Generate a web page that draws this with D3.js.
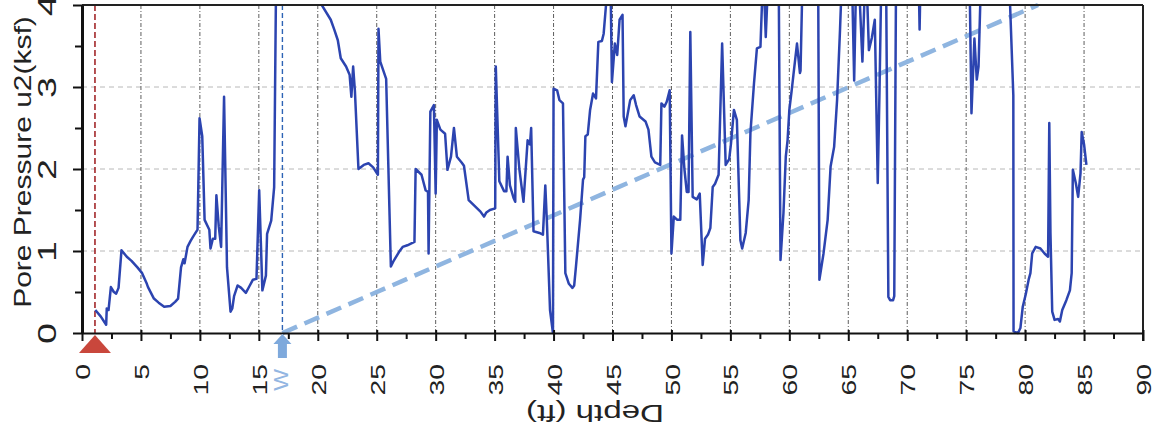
<!DOCTYPE html>
<html>
<head>
<meta charset="utf-8">
<script src="https://cdn.jsdelivr.net/npm/d3@7"></script>
<style>
  html, body { margin: 0; padding: 0; background: #fff; }
  svg { display: block; font-family: "Liberation Sans", Arial, sans-serif; }
</style>
</head>
<body>
<svg id="chart" width="1160" height="448"></svg>
<script>
// ---------------- data ----------------
const depth = [1.13,1.6,2.05,2.1,2.25,2.45,2.7,2.9,3.1,3.35,3.8,4.2,4.7,5.1,5.5,5.6,6.1,6.5,6.97,7.5,7.9,8.15,8.4,8.6,8.7,8.95,9.2,9.4,9.8,9.97,10.2,10.4,10.8,10.9,11.1,11.3,11.4,11.6,11.8,12.05,12.3,12.6,12.75,12.9,13.2,13.5,13.9,14.2,14.5,14.8,15.03,15.3,15.6,15.7,16.05,16.3,16.45,17.5,19.0,20.0,20.25,21.1,21.4,21.7,21.95,22.4,22.7,22.85,23.0,23.15,23.45,23.9,24.3,24.7,25.1,25.15,25.3,25.8,26.2,26.4,26.9,27.2,27.6,28.2,28.3,28.8,29.15,29.35,29.4,29.55,29.85,30.0,30.1,30.4,30.8,31.0,31.3,31.55,31.8,32.2,32.4,32.8,33.3,33.8,34.1,34.3,34.6,35.05,35.1,35.4,35.8,36.0,36.1,36.3,36.6,36.75,36.8,37.1,37.45,37.8,38.0,38.1,38.3,38.8,39.1,39.3,39.45,39.7,39.95,40.0,40.3,40.5,40.8,41.0,41.3,41.6,41.75,41.9,42.25,42.5,42.6,42.7,42.9,43.1,43.35,43.6,43.8,44.1,44.25,44.45,44.65,44.85,44.95,45.2,45.4,45.6,45.85,45.95,46.1,46.5,46.8,47.0,47.3,47.8,48.05,48.3,48.6,49.05,49.15,49.4,49.6,49.85,50.0,50.2,50.5,50.75,50.9,51.1,51.3,51.45,51.6,51.8,52.15,52.4,52.65,52.85,53.1,53.3,53.5,53.7,54.0,54.3,54.6,54.9,55.05,55.3,55.55,55.85,56.0,56.3,56.55,56.7,57.0,57.25,57.55,57.7,57.85,58.0,58.2,58.7,59.1,59.25,59.5,59.7,59.85,60.0,60.2,60.35,60.65,60.9,60.95,61.1,61.8,62.45,62.55,62.9,63.25,63.5,63.8,64.05,64.3,64.45,65.0,65.35,65.5,65.65,65.9,66.2,66.4,66.6,66.75,67.0,67.25,67.5,67.65,67.8,68.2,68.4,68.55,68.8,68.9,69.05,70.0,71.0,71.05,71.1,73.0,75.3,75.45,75.7,75.9,76.05,76.25,77.5,78.65,79.0,79.02,79.4,79.6,79.8,80.05,80.3,80.45,80.6,80.9,81.3,81.65,81.95,82.05,82.15,82.3,82.5,82.8,82.95,83.15,83.5,83.8,83.95,84.05,84.3,84.5,84.7,84.8,85.0,85.2];
const u2 = [0.28,0.2,0.1,0.3,0.28,0.56,0.5,0.48,0.55,1.01,0.93,0.88,0.8,0.73,0.6,0.56,0.42,0.37,0.32,0.33,0.38,0.42,0.8,0.9,0.85,1.05,1.12,1.17,1.26,2.62,2.4,1.38,1.26,1.03,1.15,1.15,1.68,1.3,1.05,2.88,0.8,0.26,0.3,0.45,0.58,0.55,0.49,0.57,0.65,0.66,1.74,0.52,0.7,1.21,1.37,1.78,4.1,5.0,5.2,4.3,4.02,3.82,3.7,3.57,3.35,3.25,3.15,2.88,3.25,2.95,2.0,2.05,2.07,2.02,1.93,3.71,3.31,3.1,0.81,0.87,0.99,1.05,1.07,1.11,2.0,1.93,1.74,1.72,0.97,2.7,2.78,1.7,2.6,2.48,2.43,1.99,2.15,2.5,2.15,2.08,2.04,1.62,1.55,1.48,1.42,1.47,1.5,1.52,3.25,1.85,1.73,1.73,2.15,1.8,1.65,1.6,2.5,2.0,1.6,2.35,2.3,2.5,1.24,1.22,1.2,1.8,1.3,0.28,0.0,2.98,2.96,2.84,2.8,0.73,0.6,0.55,0.58,0.81,1.38,1.87,1.9,2.4,2.42,2.72,2.92,2.86,3.55,3.56,3.65,4.0,4.4,4.1,3.06,3.53,3.39,3.82,3.88,2.64,2.52,2.84,2.9,2.78,2.64,2.58,2.48,2.15,2.08,2.05,2.8,2.76,2.82,2.96,0.97,1.42,1.38,1.38,2.41,2.0,1.72,1.72,3.67,1.66,1.63,1.7,0.83,1.15,1.2,1.28,1.78,1.82,1.93,3.53,2.05,2.12,2.31,2.72,2.6,1.13,1.03,1.22,1.62,2.44,3.04,3.47,3.49,4.1,4.2,3.61,4.3,4.8,4.3,0.89,1.46,2.15,2.35,2.72,2.96,3.15,3.53,3.17,3.2,4.2,4.8,4.2,0.65,0.97,1.38,2.03,2.27,2.84,3.7,4.3,4.5,4.1,3.08,4.2,4.3,3.31,4.2,4.1,3.45,3.6,3.82,1.83,2.96,4.3,4.5,0.44,0.4,0.4,0.45,4.3,5.0,4.1,3.7,4.1,5.0,4.2,2.68,3.59,3.09,3.25,4.3,5.0,4.3,2.9,0.02,0.0,0.06,0.32,0.47,0.65,0.73,0.97,1.05,1.03,0.97,0.93,2.56,1.22,0.26,0.16,0.17,0.14,0.28,0.4,0.52,0.73,1.99,1.83,1.66,1.95,2.45,2.3,2.05];

const xMajorTicks = [0,5,10,15,20,25,30,35,40,45,50,55,60,65,70,75,80,85,90];
const xMinorTicks = [2.5,7.5,12.5,17.5,22.5,27.5,32.5,37.5,42.5,47.5,52.5,57.5,62.5,67.5,72.5,77.5,82.5,87.5];
const yMajorTicks = [0,1,2,3,4];
const yMinorTicks = [0.5,1.5,2.5,3.5];
const xDomain = [0, 90];
const yDomain = [0, 4];
const xTitle = "Depth (ft)";
const yTitle = "Pore Pressure u2(ksf)";
const startDepth = 1.1;        // red marker
const waterDepth = 17;         // W marker
const waterLabel = "W";
const hydroEndDepth = 81.1;    // hydrostatic line reaches 4 ksf
const hydroEndValue = 4;

// ---------------- layout ----------------
const L = 82, R = 1143, T = 5, B = 333;
const svg = d3.select("#chart");
const x = d3.scaleLinear().domain(xDomain).range([L, R]);
const y = d3.scaleLinear().domain(yDomain).range([B, T]);

svg.append("defs").append("clipPath").attr("id", "plotClip")
  .append("rect").attr("x", L).attr("y", T).attr("width", R - L).attr("height", B - T + 3);

// grid
const grid = svg.append("g");
grid.selectAll("line.hg").data(yMajorTicks.filter(v => v > 0 && v < 4)).join("line")
  .attr("x1", L).attr("x2", R).attr("y1", d => y(d)).attr("y2", d => y(d))
  .attr("stroke", "#b8b8b8").attr("stroke-width", 1).attr("stroke-dasharray", "5,4");
grid.selectAll("line.vg").data(xMajorTicks.filter(v => v > 0 && v < 90)).join("line")
  .attr("x1", d => x(d)).attr("x2", d => x(d)).attr("y1", T).attr("y2", B)
  .attr("stroke", "#5e5e5e").attr("stroke-width", 1).attr("stroke-dasharray", "4,2,1,2");

// markers lines
svg.append("line").attr("x1", x(startDepth)).attr("x2", x(startDepth)).attr("y1", T).attr("y2", B)
  .attr("stroke", "#a3282a").attr("stroke-width", 1.6).attr("stroke-dasharray", "6,3");
svg.append("line").attr("x1", x(waterDepth)).attr("x2", x(waterDepth)).attr("y1", T).attr("y2", B)
  .attr("stroke", "#2d63b5").attr("stroke-width", 1.4).attr("stroke-dasharray", "5,3");

// hydrostatic line
svg.append("line")
  .attr("x1", x(waterDepth)).attr("y1", y(0)).attr("x2", x(hydroEndDepth)).attr("y2", y(hydroEndValue))
  .attr("stroke", "#8fb5e0").attr("stroke-width", 4.5).attr("stroke-dasharray", "16,8");

// data line
const pts = depth.map((d, i) => [d, u2[i]]);
svg.append("path").datum(pts)
  .attr("clip-path", "url(#plotClip)")
  .attr("fill", "none").attr("stroke", "#2c44b0").attr("stroke-width", 2.5)
  .attr("stroke-linejoin", "round")
  .attr("d", d3.line().x(d => x(d[0])).y(d => y(d[1])));

// frame top/right
svg.append("line").attr("x1", L).attr("x2", R).attr("y1", T).attr("y2", T).attr("stroke", "#222").attr("stroke-width", 2);
svg.append("line").attr("x1", R).attr("x2", R).attr("y1", T).attr("y2", B + 8).attr("stroke", "#222").attr("stroke-width", 2);

// x axis
const xAxisMinor = d3.axisBottom(x).tickValues(xMinorTicks).tickSize(6).tickSizeOuter(0).tickFormat("");
svg.append("g").attr("transform", `translate(0,${B})`).call(xAxisMinor)
  .call(g => g.select(".domain").remove())
  .call(g => g.selectAll("line").attr("stroke", "#111").attr("stroke-width", 2));
const xAxis = d3.axisBottom(x).tickValues(xMajorTicks).tickSize(8).tickSizeOuter(0).tickFormat(d3.format("d"));
const gx = svg.append("g").attr("transform", `translate(0,${B})`).call(xAxis);
gx.select(".domain").attr("stroke", "#111").attr("stroke-width", 2);
gx.selectAll("line").attr("stroke", "#111").attr("stroke-width", 2).attr("y1", -3);
gx.selectAll("text")
  .attr("x", 0).attr("y", 0).attr("dy", "0.36em")
  .attr("text-anchor", "end")
  .attr("transform", "translate(0,31) rotate(-90) scale(1.35,1)")
  .attr("font-size", 21).attr("fill", "#222")
  .style("font-family", "'Liberation Sans', Arial, sans-serif");

// y axis
const yAxisMinor = d3.axisLeft(y).tickValues(yMinorTicks).tickSize(7).tickSizeOuter(0).tickFormat("");
svg.append("g").attr("transform", `translate(${L},0)`).call(yAxisMinor)
  .call(g => g.select(".domain").remove())
  .call(g => g.selectAll("line").attr("stroke", "#111").attr("stroke-width", 2));
const yAxis = d3.axisLeft(y).tickValues(yMajorTicks).tickSize(9).tickSizeOuter(0).tickFormat(d3.format("d"));
const gy = svg.append("g").attr("transform", `translate(${L},0)`).call(yAxis);
gy.select(".domain").attr("stroke", "#111").attr("stroke-width", 3);
gy.selectAll("line").attr("stroke", "#111").attr("stroke-width", 2);
gy.selectAll("text")
  .attr("x", 0).attr("y", 0).attr("dy", "0.36em")
  .attr("text-anchor", "middle")
  .attr("transform", "translate(-35,0) rotate(-90) scale(1.45,1)")
  .attr("font-size", 26).attr("fill", "#222")
  .style("font-family", "'Liberation Sans', Arial, sans-serif");

// titles
svg.append("text").text(yTitle)
  .attr("transform", `translate(22,${(T + B) / 2 - 7}) rotate(-90) scale(1.25,1)`)
  .attr("text-anchor", "middle").attr("dy", "0.36em")
  .attr("font-size", 24).attr("fill", "#222");
svg.append("text").text(xTitle)
  .attr("transform", `translate(595,414) rotate(180) scale(1.38,1)`)
  .attr("text-anchor", "middle").attr("dy", "0.36em")
  .attr("font-size", 24).attr("fill", "#222");

// red triangle marker
const tx = x(startDepth);
svg.append("path")
  .attr("d", d3.line()([[tx - 16, B + 20], [tx + 16, B + 20], [tx, B + 2]]) + "Z")
  .attr("fill", "#c9473c");

// water arrow marker
const wx = x(waterDepth);
svg.append("path")
  .attr("d", d3.line()([[wx, B + 1], [wx - 9, B + 11], [wx - 4.5, B + 11], [wx - 4.5, B + 25], [wx + 4.5, B + 25], [wx + 4.5, B + 11], [wx + 9, B + 11]]) + "Z")
  .attr("fill", "#7ea9dc");
svg.append("text").text(waterLabel)
  .attr("transform", `translate(${wx - 2},369) rotate(-90) scale(1.1,1)`)
  .attr("text-anchor", "end").attr("dy", "0.36em")
  .attr("font-size", 21).attr("fill", "#93b6e2");
</script>
</body>
</html>
